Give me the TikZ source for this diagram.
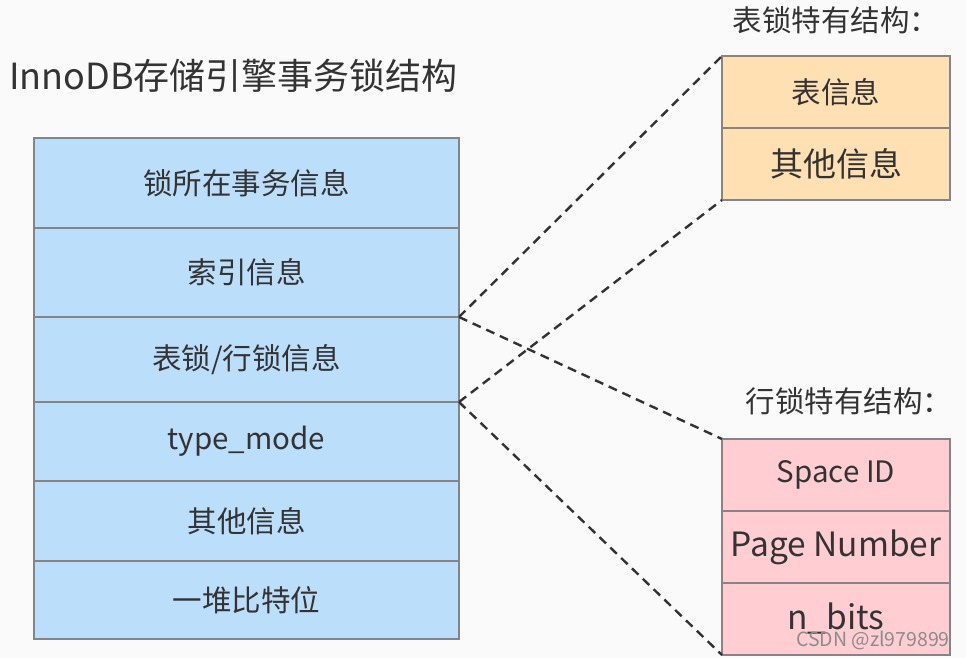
\documentclass[tikz,border=0pt]{standalone}
\usepackage{tikz}
\usetikzlibrary{positioning}
\usepackage{xcolor}
\usepackage{fontspec}
\setmainfont{Noto Sans CJK SC}

\definecolor{bgcol}{HTML}{FAFAFA}
\definecolor{textcol}{HTML}{333333}
\definecolor{linecol}{HTML}{858585}
\definecolor{lockblue}{HTML}{BBDEFB}
\definecolor{tableorange}{HTML}{FFE0B2}
\definecolor{rowpink}{HTML}{FFCDD2}

\begin{document}
\begin{tikzpicture}[
x=1pt, y=-1pt,
cell/.style={draw=linecol, line width=1.2pt, rectangle,
inner sep=0pt, outer sep=0pt,
text=textcol, font=\fontsize{29.5}{32}\selectfont,
align=center},
mainbox/.style={cell, fill=lockblue, minimum width=425pt},
tablebox/.style={cell, fill=tableorange, minimum width=228pt, minimum height=72pt},
rowbox/.style={cell, fill=rowpink, minimum width=228pt, minimum height=72pt},
caption/.style={text=textcol, inner sep=0pt, font=\fontsize{29.5}{32}\selectfont},
link/.style={dashed, dash pattern=on 9pt off 6pt, line width=2.4pt, draw=textcol}
]

\fill[bgcol] (0,0) rectangle (966,658);
\useasboundingbox (0,0) rectangle (966,658);

% titles
\node[caption, anchor=west, font=\fontsize{36}{40}\selectfont] (title) at (9,76) {InnoDB存储引擎事务锁结构};
\node[caption] (tabletitle) at (836,20) {表锁特有结构：};
\node[caption] (rowtitle) at (849,401) {行锁特有结构：};

% lock structure
\node[mainbox, minimum height=90pt, anchor=north west] (trx) at (34,138) {锁所在事务信息};
\node[mainbox, minimum height=89pt, below=0pt of trx] (index) {索引信息};
\node[mainbox, minimum height=85pt, below=0pt of index] (lockinfo) {表锁/行锁信息};
\node[mainbox, minimum height=79pt, below=0pt of lockinfo] (typemode) {type\_mode};
\node[mainbox, minimum height=80pt, below=0pt of typemode] (other) {其他信息};
\node[mainbox, minimum height=78pt, below=0pt of other] (bits) {一堆比特位};

% table lock
\node[tablebox, anchor=north west] (tinfo) at (722,56) {表信息};
\node[tablebox, below=0pt of tinfo, font=\fontsize{33}{36}\selectfont] (tother) {其他信息};

% row lock
\node[rowbox, anchor=north west] (space) at (722,439) {Space ID};
\node[rowbox, below=0pt of space, font=\fontsize{33.5}{36}\selectfont] (page) {Page Number};
\node[rowbox, below=0pt of page, font=\fontsize{33.5}{36}\selectfont] (nbits) {n\_bits};

\draw[link] (index.south east) -- (tinfo.north west);
\draw[link] (lockinfo.south east) -- (tother.south west);
\draw[link] (index.south east) -- (space.north west);
\draw[link] (lockinfo.south east) -- (nbits.south west);

% watermark
\node[anchor=east, inner sep=0pt, text=gray!90, font=\fontsize{19.5}{21}\selectfont] (mark) at (950,640) {CSDN @zl979899};

\end{tikzpicture}
\end{document}
